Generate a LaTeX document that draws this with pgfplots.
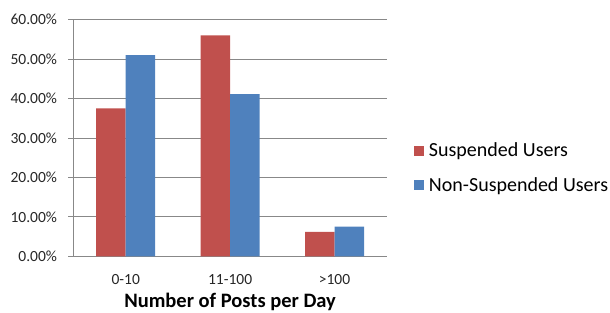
\documentclass[border=0pt]{standalone}
\usepackage{pgfplots}
\pgfplotsset{compat=1.18}
\usepackage{fontspec}
\setmainfont{Carlito}
\definecolor{sred}{HTML}{C0504D}
\definecolor{nblue}{HTML}{4F81BD}
\definecolor{gridc}{HTML}{888888}
\begin{document}
\begin{tikzpicture}
\useasboundingbox (-73.5bp,-56.7bp) rectangle (536.5bp,256.3bp);
\begin{axis}[
  at={(0,0)}, anchor=south west,
  scale only axis,
  width=313.2bp, height=236.6bp,
  ybar=0pt, bar width=29.5bp,
  xmin=-0.5, xmax=2.5,
  ymin=0, ymax=60,
  xtick={0,1,2},
  xticklabels={0-10,11-100,>100},
  ytick={0,10,...,60},
  yticklabel={\pgfmathprintnumber[fixed,fixed zerofill,precision=2]{\tick}\%},
  /pgf/number format/assume math mode=true,
  ticklabel style={font=\fontsize{15.5bp}{18bp}\selectfont, text=black!85},
  xticklabel style={yshift=-10bp},
  yticklabel style={xshift=-8bp},
  x tick style={draw=none},
  y tick style={gridc, line width=0.8bp},
  major tick length=5bp,
  tick align=outside,
  ymajorgrids,
  grid style={gridc, line width=0.8bp},
  axis x line*=bottom,
  axis y line*=left,
  axis line style={gridc, line width=0.8bp, -},
  xlabel={\textbf{Number of Posts per Day}},
  xlabel style={font=\fontsize{20.5bp}{24bp}\selectfont, yshift=-1bp},
  legend style={at={(1.077,0.374)}, anchor=west, draw=none, fill=none,
    font=\fontsize{20bp}{24bp}\selectfont, row sep=15bp,
    /tikz/every odd column/.append style={column sep=3bp}},
  legend cell align=left,
  legend image code/.code={\fill[#1] (0bp,-5bp) rectangle (10bp,5bp);},
]
\addplot[fill=sred, draw=none] coordinates {(0,37.5) (1,56.0) (2,6.2)};
\addplot[fill=nblue, draw=none] coordinates {(0,51.0) (1,41.1) (2,7.5)};
\legend{Suspended Users, Non-Suspended Users}
\end{axis}
\end{tikzpicture}
\end{document}
